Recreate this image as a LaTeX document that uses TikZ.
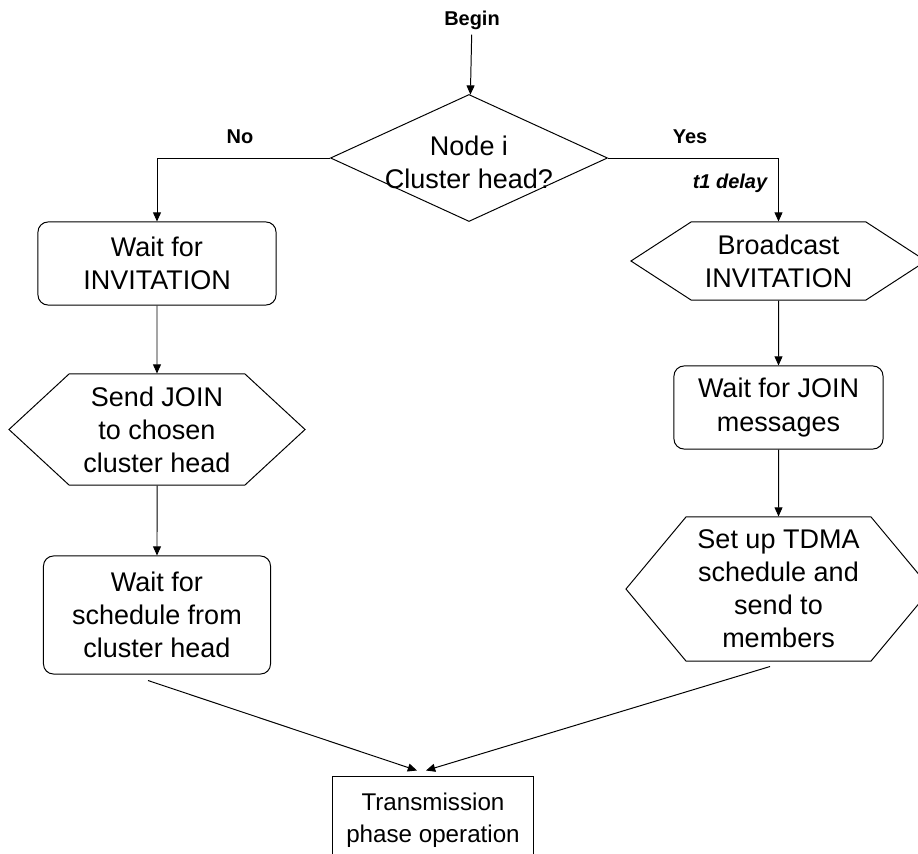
\documentclass[tikz,border=0pt]{standalone}
\usepackage{fontspec}
\setmainfont{Liberation Sans}
\usetikzlibrary{arrows.meta,positioning,calc,shapes.geometric,shapes.symbols}

\begin{document}
\begin{tikzpicture}[x=0.025cm,y=-0.025cm,line width=0.7pt,
  flow/.style={-{Triangle[length=2.3mm,width=2mm]}},
  txt/.style={font=\fontsize{19.2}{23.5}\selectfont,align=center},
  lbl/.style={font=\fontsize{14.2}{16}\selectfont\bfseries},
  roundbox/.style={txt,draw,rounded corners=0.25cm,inner sep=0pt},
  hexbox/.style={txt,draw,shape=signal,signal to=west and east,signal from=nowhere,inner sep=0pt},
  decbox/.style={txt,draw,shape=diamond,aspect=2.2,inner sep=-8pt}]
\useasboundingbox (0,0) rectangle (918,853);
\node[lbl] (begin) at (472,20) {Begin};
\node[decbox,minimum width=6.925cm,minimum height=3.175cm] (dec) at (469,158) {};
\node[txt] (dectext) at (469,162) {Node i\\Cluster head?};
\node[lbl] (no) at (240,137) {No};
\node[lbl] (yes) at (690,137) {Yes};
\node[lbl,font=\fontsize{14.2}{16}\selectfont\bfseries\itshape] (delay) at (730,183) {t1 delay};
\node[roundbox,minimum width=5.95cm,minimum height=2.075cm] (waitinv) at (157,263.5) {Wait for\\INVITATION};
\node[hexbox,minimum width=7.4cm,minimum height=2.775cm,signal pointer angle=85.5] (sendjoin) at (157,429.5) {Send JOIN\\to chosen\\cluster head};
\node[roundbox,minimum width=5.675cm,minimum height=2.95cm] (waitsched) at (157,615) {Wait for\\schedule from\\cluster head};
\node[hexbox,minimum width=7.375cm,minimum height=1.95cm,signal pointer angle=66] (bcast) at (778.5,261) {Broadcast\\INVITATION};
\node[roundbox,minimum width=5.225cm,minimum height=2.075cm] (waitjoin) at (778.5,407.5) {Wait for JOIN\\messages};
\node[hexbox,minimum width=7.625cm,minimum height=3.6cm,signal pointer angle=100.4] (tdma) at (778.5,589) {Set up TDMA\\schedule and\\send to\\members};
\node[txt,font=\fontsize{17.2}{23}\selectfont,draw,minimum width=5cm,minimum height=2.2cm,inner sep=0pt] (trans) at (433,820) {Transmission\\phase operation};
\draw[flow] (begin) -- (dec);
\draw[flow] (dec.west) -| (waitinv.north);
\draw[flow] (dec.east) -| (bcast.north);
\draw[flow] (waitinv) -- (sendjoin);
\draw[flow] (sendjoin) -- (waitsched);
\draw[flow] (bcast) -- (waitjoin);
\draw[flow] (waitjoin) -- (tdma);
\draw[flow] ($(waitsched.south)+(-9,6)$) -- ($(trans.north)+(-16,-5)$);
\draw[flow] ($(tdma.south)+(-8.5,5)$) -- ($(trans.north)+(-7,-5)$);
\end{tikzpicture}
\end{document}
